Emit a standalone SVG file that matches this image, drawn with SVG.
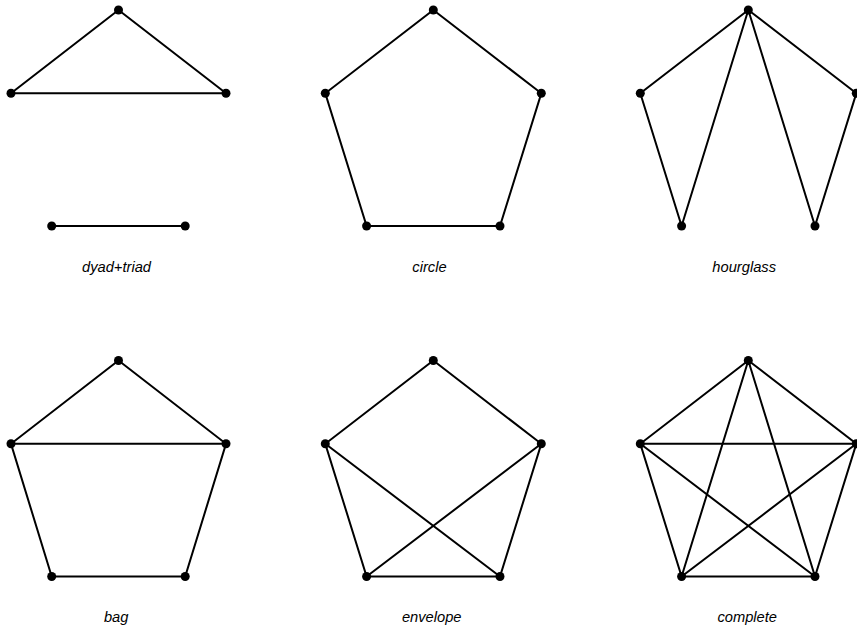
<svg xmlns="http://www.w3.org/2000/svg" width="857" height="631" viewBox="0 0 857 631">
<style>
  .e { stroke: #000; stroke-width: 2; fill: none; stroke-linecap: round; }
  .n { fill: #000; }
  .lbl { font-family: "Liberation Sans", Arial, sans-serif; font-style: italic; font-size: 14.7px; fill: #000; text-anchor: middle; }
</style>
<rect width="857" height="631" fill="#fff"/>

<!-- dyad+triad -->
<g id="dyad-triad">
  <g id="dyad-triad-edges">
    <line class="e" x1="118.5" y1="10" x2="11" y2="93.3"/>
    <line class="e" x1="118.5" y1="10" x2="226" y2="93.3"/>
    <line class="e" x1="11" y1="93.3" x2="226" y2="93.3"/>
    <line class="e" x1="51.7" y1="226" x2="185.2" y2="226"/>
  </g>
  <g id="dyad-triad-n1"><circle class="n" cx="118.5" cy="10" r="4.5"/></g>
  <g id="dyad-triad-n2"><circle class="n" cx="11" cy="93.3" r="4.5"/></g>
  <g id="dyad-triad-n3"><circle class="n" cx="226" cy="93.3" r="4.5"/></g>
  <g id="dyad-triad-n4"><circle class="n" cx="51.7" cy="226" r="4.5"/></g>
  <g id="dyad-triad-n5"><circle class="n" cx="185.2" cy="226" r="4.5"/></g>
  <text class="lbl" x="116.5" y="272.3">dyad+triad</text>
</g>

<!-- circle -->
<g id="circle">
  <g id="circle-edges">
    <polygon class="e" points="433.3,10 541.3,93.3 500,226 366.6,226 325.3,93.3"/>
  </g>
  <g id="circle-n1"><circle class="n" cx="433.3" cy="10" r="4.5"/></g>
  <g id="circle-n2"><circle class="n" cx="325.3" cy="93.3" r="4.5"/></g>
  <g id="circle-n3"><circle class="n" cx="541.3" cy="93.3" r="4.5"/></g>
  <g id="circle-n4"><circle class="n" cx="366.6" cy="226" r="4.5"/></g>
  <g id="circle-n5"><circle class="n" cx="500" cy="226" r="4.5"/></g>
  <text class="lbl" x="429.5" y="272.3">circle</text>
</g>

<!-- hourglass -->
<g id="hourglass">
  <g id="hourglass-edges">
    <line class="e" x1="748.3" y1="10" x2="640.3" y2="93.3"/>
    <line class="e" x1="748.3" y1="10" x2="856.3" y2="93.3"/>
    <line class="e" x1="748.3" y1="10" x2="681.6" y2="226"/>
    <line class="e" x1="748.3" y1="10" x2="815" y2="226"/>
    <line class="e" x1="640.3" y1="93.3" x2="681.6" y2="226"/>
    <line class="e" x1="856.3" y1="93.3" x2="815" y2="226"/>
  </g>
  <g id="hourglass-n1"><circle class="n" cx="748.3" cy="10" r="4.5"/></g>
  <g id="hourglass-n2"><circle class="n" cx="640.3" cy="93.3" r="4.5"/></g>
  <g id="hourglass-n3"><circle class="n" cx="856.3" cy="93.3" r="4.5"/></g>
  <g id="hourglass-n4"><circle class="n" cx="681.6" cy="226" r="4.5"/></g>
  <g id="hourglass-n5"><circle class="n" cx="815" cy="226" r="4.5"/></g>
  <text class="lbl" x="744.2" y="272.3">hourglass</text>
</g>

<!-- bag -->
<g id="bag">
  <g id="bag-edges">
    <polygon class="e" points="118.5,360.5 226,443.8 185.2,576.5 51.7,576.5 11,443.8"/>
    <line class="e" x1="11" y1="443.8" x2="226" y2="443.8"/>
  </g>
  <g id="bag-n1"><circle class="n" cx="118.5" cy="360.5" r="4.5"/></g>
  <g id="bag-n2"><circle class="n" cx="11" cy="443.8" r="4.5"/></g>
  <g id="bag-n3"><circle class="n" cx="226" cy="443.8" r="4.5"/></g>
  <g id="bag-n4"><circle class="n" cx="51.7" cy="576.5" r="4.5"/></g>
  <g id="bag-n5"><circle class="n" cx="185.2" cy="576.5" r="4.5"/></g>
  <text class="lbl" x="116.2" y="622.3">bag</text>
</g>

<!-- envelope -->
<g id="envelope">
  <g id="envelope-edges">
    <polygon class="e" points="433.3,360.5 541.3,443.8 500,576.5 366.6,576.5 325.3,443.8"/>
    <line class="e" x1="325.3" y1="443.8" x2="500" y2="576.5"/>
    <line class="e" x1="541.3" y1="443.8" x2="366.6" y2="576.5"/>
  </g>
  <g id="envelope-n1"><circle class="n" cx="433.3" cy="360.5" r="4.5"/></g>
  <g id="envelope-n2"><circle class="n" cx="325.3" cy="443.8" r="4.5"/></g>
  <g id="envelope-n3"><circle class="n" cx="541.3" cy="443.8" r="4.5"/></g>
  <g id="envelope-n4"><circle class="n" cx="366.6" cy="576.5" r="4.5"/></g>
  <g id="envelope-n5"><circle class="n" cx="500" cy="576.5" r="4.5"/></g>
  <text class="lbl" x="431.7" y="622.3">envelope</text>
</g>

<!-- complete -->
<g id="complete">
  <g id="complete-edges">
    <polygon class="e" points="748.3,360.5 856.3,443.8 815,576.5 681.6,576.5 640.3,443.8"/>
    <line class="e" x1="640.3" y1="443.8" x2="856.3" y2="443.8"/>
    <line class="e" x1="640.3" y1="443.8" x2="815" y2="576.5"/>
    <line class="e" x1="856.3" y1="443.8" x2="681.6" y2="576.5"/>
    <line class="e" x1="748.3" y1="360.5" x2="681.6" y2="576.5"/>
    <line class="e" x1="748.3" y1="360.5" x2="815" y2="576.5"/>
  </g>
  <g id="complete-n1"><circle class="n" cx="748.3" cy="360.5" r="4.5"/></g>
  <g id="complete-n2"><circle class="n" cx="640.3" cy="443.8" r="4.5"/></g>
  <g id="complete-n3"><circle class="n" cx="856.3" cy="443.8" r="4.5"/></g>
  <g id="complete-n4"><circle class="n" cx="681.6" cy="576.5" r="4.5"/></g>
  <g id="complete-n5"><circle class="n" cx="815" cy="576.5" r="4.5"/></g>
  <text class="lbl" x="747.2" y="622.3">complete</text>
</g>
</svg>
